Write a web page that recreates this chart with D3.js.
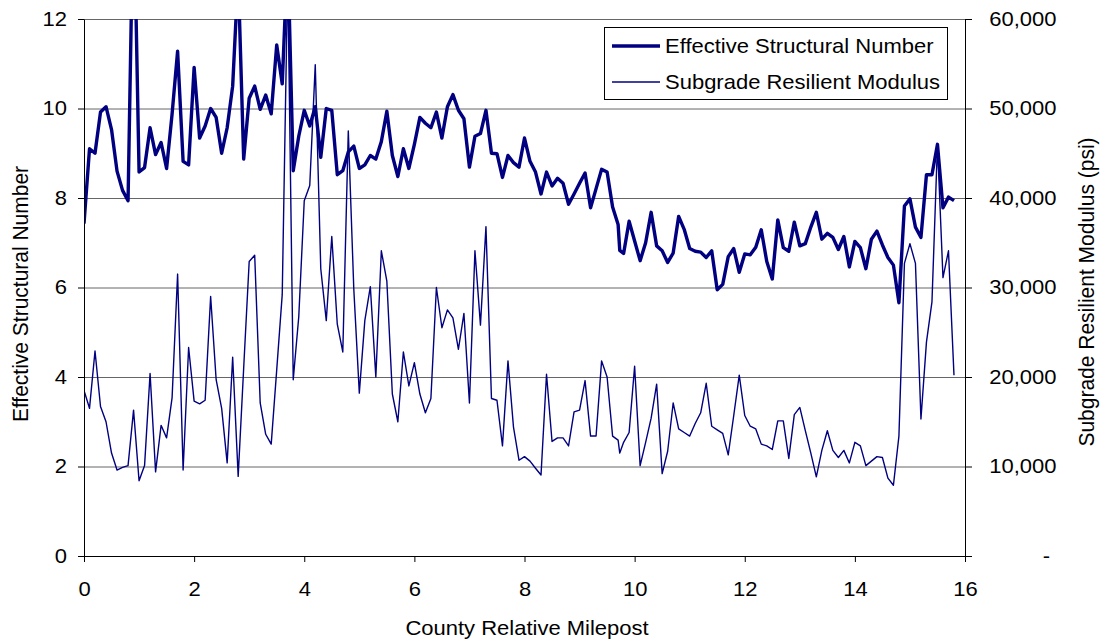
<!DOCTYPE html>
<html>
<head>
<meta charset="utf-8">
<script src="https://cdn.jsdelivr.net/npm/d3@7/dist/d3.min.js"></script>
<style>
  body { margin: 0; background: #fff; }
  text { font-family: "Liberation Sans", Arial, sans-serif; fill: #000; }
</style>
</head>
<body>
<div id="chart"></div>
<script>
"use strict"

const mileposts = [
  0.0, 0.1, 0.2, 0.3, 0.4, 0.5, 0.6, 0.7, 0.8, 0.9,
  1.0, 1.1, 1.2, 1.3, 1.4, 1.5, 1.6, 1.7, 1.8, 1.9,
  2.0, 2.1, 2.2, 2.3, 2.4, 2.5, 2.6, 2.7, 2.8, 2.9,
  3.0, 3.1, 3.2, 3.3, 3.4, 3.5, 3.6, 3.7, 3.8, 3.9,
  4.0, 4.1, 4.2, 4.3, 4.4, 4.5, 4.6, 4.7, 4.8, 4.9,
  5.0, 5.1, 5.2, 5.3, 5.4, 5.5, 5.6, 5.7, 5.8, 5.9,
  6.0, 6.1, 6.2, 6.3, 6.4, 6.5, 6.6, 6.7, 6.8, 6.9,
  7.0, 7.1, 7.2, 7.3, 7.4, 7.5, 7.6, 7.7, 7.8, 7.9,
  8.0, 8.1, 8.2, 8.3, 8.4, 8.5, 8.6, 8.7, 8.8, 8.9,
  9.0, 9.1, 9.2, 9.3, 9.4, 9.5, 9.6, 9.7, 9.73, 9.8, 9.9,
  10.0, 10.1, 10.2, 10.3, 10.4, 10.5, 10.6, 10.7, 10.8, 10.9,
  11.0, 11.1, 11.2, 11.3, 11.4, 11.5, 11.6, 11.7, 11.8, 11.9,
  12.0, 12.1, 12.2, 12.3, 12.4, 12.5, 12.6, 12.7, 12.8, 12.9,
  13.0, 13.1, 13.2, 13.3, 13.4, 13.5, 13.6, 13.7, 13.8, 13.9,
  14.0, 14.1, 14.2, 14.3, 14.4, 14.5, 14.6, 14.7, 14.8, 14.9,
  15.0, 15.1, 15.2, 15.3, 15.4, 15.5, 15.6, 15.7, 15.8
];

const structuralNumber = [
  7.43, 9.1, 9.0, 9.92, 10.04, 9.53, 8.6, 8.17, 7.94, 15,
  8.58, 8.68, 9.57, 8.97, 9.24, 8.66, 9.88, 11.28, 8.82, 8.74,
  10.92, 9.34, 9.61, 10.0, 9.8, 9.0, 9.57, 10.5, 13, 8.87,
  10.23, 10.5, 9.98, 10.3, 9.88, 11.42, 10.55, 13.5, 8.61, 9.38,
  9.96, 9.61, 10.04, 8.91, 10.0, 9.96, 8.52, 8.61, 9.03, 9.16,
  8.66, 8.74, 8.95, 8.87, 9.26, 9.94, 8.95, 8.48, 9.1, 8.66,
  9.2, 9.8, 9.67, 9.57, 9.92, 9.34, 10.04, 10.31, 9.96, 9.77,
  8.69, 9.38, 9.44, 9.96, 9.0, 8.99, 8.46, 8.95, 8.79, 8.69,
  9.34, 8.82, 8.58, 8.09, 8.58, 8.27, 8.44, 8.33, 7.86, 8.09,
  8.33, 8.56, 7.78, 8.21, 8.64, 8.58, 7.8, 7.41, 6.83, 6.76, 7.48,
  7.04, 6.6, 7.0, 7.68, 6.93, 6.82, 6.56, 6.77, 7.59, 7.3,
  6.87, 6.81, 6.79, 6.67, 6.82, 5.95, 6.07, 6.69, 6.87, 6.34,
  6.75, 6.73, 6.9, 7.29, 6.58, 6.19, 7.51, 6.89, 6.81, 7.46,
  6.93, 6.98, 7.35, 7.68, 7.08, 7.21, 7.12, 6.85, 7.14, 6.46,
  7.03, 6.89, 6.42, 7.08, 7.26, 6.95, 6.67, 6.5, 5.66, 7.82,
  7.98, 7.35, 7.12, 8.52, 8.52, 9.2, 7.78, 8.02, 7.94
];

const resilientModulus = [
  18500, 16500, 22900, 16700, 15000, 11500, 9600, 9900, 10100, 16300,
  8400, 10100, 20400, 9400, 14600, 13200, 17700, 31500, 9600, 23300,
  17300, 17000, 17400, 29000, 19700, 16500, 10400, 22200, 8900, 21000,
  32900, 33600, 17100, 13600, 12500, 20800, 29200, 65000, 19700, 26700,
  39700, 41400, 54900, 32100, 26300, 35700, 25900, 22800, 47500, 29800,
  18200, 26300, 30100, 20000, 34100, 30700, 18100, 15000, 22800, 19000,
  21600, 18100, 16000, 17600, 30000, 25500, 27500, 26600, 23100, 27100,
  17100, 34100, 25800, 36800, 17600, 17400, 12300, 21800, 14400, 10700,
  11100, 10600, 9800, 9050, 20300, 12800, 13200, 13200, 12300, 16100,
  16300, 19600, 13400, 13400, 21800, 20000, 13400, 12950, 11500, 12700, 13800,
  21200, 10100, 12700, 15400, 19200, 9200, 11700, 17100, 14200, 13800,
  13400, 14800, 16000, 19300, 14500, 14100, 13700, 11300, 15700, 20200,
  15700, 14500, 14200, 12500, 12300, 11900, 15100, 15100, 10900, 15800,
  16600, 14000, 11500, 8850, 11800, 14000, 11800, 11000, 11800, 10400,
  12700, 12300, 10100, 10600, 11100, 11000, 8700, 7900, 13400, 32700,
  34900, 32700, 15300, 23900, 28400, 46000, 31100, 34100, 20200
];

const seriesNames = ["Effective Structural Number", "Subgrade Resilient Modulus"];
const xTicks = [0, 2, 4, 6, 8, 10, 12, 14, 16];
const leftTicks = [0, 2, 4, 6, 8, 10, 12];
const rightTicks = [0, 10000, 20000, 30000, 40000, 50000, 60000];

const lineColor = "#000080";
const stretch = "scale(1.1,1)";

let margin = {top: 19, right: 140, bottom: 88, left: 84};
let width = 1105 - margin.left - margin.right,
    height = 644 - margin.top - margin.bottom;

let root = d3.select("#chart")
  .append("svg")
  .attr("width", 1105)
  .attr("height", 644);

let svg = root.append("g")
  .attr("transform", "translate(" + margin.left + "," + margin.top + ")");

let x = d3.scaleLinear().domain([0, 16]).range([0, width]);
let yLeft = d3.scaleLinear().domain([0, 12]).range([height, 0]);
let yRight = d3.scaleLinear().domain([0, 60000]).range([height, 0]);

// horizontal gridlines
svg.append("g")
  .attr("class", "grid")
  .call(d3.axisLeft(yLeft).tickValues(leftTicks.slice(1)).tickSize(-width).tickFormat(""))
  .call(function(g) { g.select(".domain").remove(); })
  .selectAll("line")
  .attr("stroke", "#666");

// data
let data = mileposts.map(function(m, i) {
  return {mile: m, sn: structuralNumber[i], mr: resilientModulus[i]};
});

svg.append("clipPath")
  .attr("id", "plotClip")
  .append("rect")
  .attr("width", width)
  .attr("height", height);

let snLine = d3.line()
  .x(function(d) { return x(d.mile); })
  .y(function(d) { return yLeft(d.sn); });

let mrLine = d3.line()
  .x(function(d) { return x(d.mile); })
  .y(function(d) { return yRight(d.mr); });

let lines = svg.append("g").attr("clip-path", "url(#plotClip)");

lines.append("path")
  .datum(data)
  .attr("d", mrLine)
  .attr("fill", "none")
  .attr("stroke", lineColor)
  .attr("stroke-width", 1.4)
  .attr("stroke-linejoin", "round");

lines.append("path")
  .datum(data)
  .attr("d", snLine)
  .attr("fill", "none")
  .attr("stroke", lineColor)
  .attr("stroke-width", 3.4)
  .attr("stroke-linejoin", "round");

// axes
let bottomAxis = svg.append("g")
  .attr("transform", "translate(0," + height + ")")
  .call(d3.axisBottom(x).tickValues(xTicks).tickSize(6).tickSizeOuter(0).tickFormat(d3.format("d")));

bottomAxis.selectAll("text")
  .attr("y", 33)
  .attr("dy", "0.35em")
  .attr("transform", stretch);

let leftAxis = svg.append("g")
  .call(d3.axisLeft(yLeft).tickValues(leftTicks).tickSize(6).tickSizeOuter(0));

leftAxis.selectAll("text")
  .attr("x", -17 / 1.1)
  .attr("transform", stretch);

let rightAxis = svg.append("g")
  .attr("transform", "translate(" + width + ",0)")
  .call(d3.axisRight(yRight).tickValues(rightTicks).tickSize(7).tickSizeOuter(0)
    .tickFormat(function(d) { return d === 0 ? "-" : d3.format(",")(d); }));

rightAxis.selectAll("text")
  .attr("text-anchor", "end")
  .attr("x", function(d) { return d === 0 ? 85 / 1.1 : 91.5 / 1.1; })
  .attr("transform", stretch);

[bottomAxis, leftAxis, rightAxis].forEach(function(g) {
  g.selectAll("line").attr("stroke", "#000");
  g.select(".domain").attr("stroke", "#000");
  g.selectAll("text").attr("font-size", null).style("font-size", "20px");
});

// axis titles
root.append("text")
  .attr("transform", "translate(527,628) " + stretch)
  .attr("text-anchor", "middle")
  .attr("dy", "0.35em")
  .style("font-size", "20px")
  .text("County Relative Milepost");

root.append("text")
  .attr("transform", "translate(20,294) rotate(-90) scale(1,1.05)")
  .attr("text-anchor", "middle")
  .attr("dy", "0.35em")
  .style("font-size", "21px")
  .text("Effective Structural Number");

root.append("text")
  .attr("transform", "translate(1086,292) rotate(-90) scale(1,1.05)")
  .attr("text-anchor", "middle")
  .attr("dy", "0.35em")
  .style("font-size", "21px")
  .text("Subgrade Resilient Modulus (psi)");

// legend
let legend = root.append("g");

legend.append("rect")
  .attr("x", 604.5)
  .attr("y", 27.5)
  .attr("width", 343)
  .attr("height", 72)
  .attr("fill", "#fff")
  .attr("stroke", "#000")
  .attr("stroke-width", 1);

let legendRows = legend.selectAll(".row")
  .data(seriesNames)
  .enter()
  .append("g")
  .attr("class", "row")
  .attr("transform", function(d, i) { return "translate(612," + (46 + i * 36) + ")"; });

legendRows.append("line")
  .attr("x1", 0)
  .attr("x2", 48)
  .attr("stroke", lineColor)
  .attr("stroke-width", function(d, i) { return i === 0 ? 3.4 : 1.4; });

legendRows.append("text")
  .attr("transform", "translate(53,0) " + stretch)
  .attr("dy", "0.35em")
  .style("font-size", "20px")
  .text(function(d) { return d; });
</script>
</body>
</html>
